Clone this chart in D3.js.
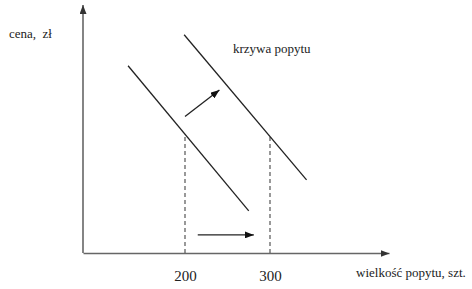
<!DOCTYPE html>
<html>
<head>
<meta charset="utf-8">
<script src="https://cdn.jsdelivr.net/npm/d3@7"></script>
<style>
  body { margin: 0; background: #fff; }
</style>
</head>
<body>
<svg id="chart"></svg>
<script>
// quantity / price readings (schematic)
const demandOld = [[133, 75.5], [275, 17]];
const demandNew = [[199, 88], [343, 29.5]];
const guideOld = [[200, 0], [200, 48]];
const guideNew = [[300, 0], [300, 47.5]];
const shiftArrow = [[200, 55], [240.5, 65.7]];
const qtyArrow = [[215, 7.3], [281, 7.3]];
const tickValues = [200, 300];

const w = 472;
const h = 289;
const serif = "'Liberation Serif', 'Times New Roman', Times, serif";

const x = d3.scaleLinear().domain([80, 440]).range([83, 389]);
const y = d3.scaleLinear().domain([0, 100]).range([253, 5]);

const svg = d3.select("#chart").attr("width", w).attr("height", h);

const defs = svg.append("defs");
const marker = (id, color, len, wid) => {
  defs.append("marker")
    .attr("id", id)
    .attr("viewBox", `0 ${-wid / 2} ${len} ${wid}`)
    .attr("refX", len).attr("refY", 0)
    .attr("markerUnits", "userSpaceOnUse")
    .attr("markerWidth", len).attr("markerHeight", wid)
    .attr("orient", "auto")
    .append("path")
    .attr("d", `M0,${-wid / 2}L${len},0L0,${wid / 2}Z`)
    .attr("fill", color);
};
marker("axisHead", "#333", 9, 7);
marker("head", "#111", 9, 7);

const line = d3.line().x(d => x(d[0])).y(d => y(d[1]));

// axes
const xAxis = d3.axisBottom(x).tickValues(tickValues).tickSize(0).tickSizeOuter(0).tickPadding(17);
const gx = svg.append("g").attr("transform", `translate(0,${y(0)})`).call(xAxis)
  .attr("font-family", null).attr("font-size", null);
gx.select(".domain").attr("stroke", "#666").attr("stroke-width", 1.6).attr("marker-end", "url(#axisHead)");
gx.selectAll("text").style("font-family", serif).style("font-size", "15px").attr("fill", "#222");

const yAxis = d3.axisLeft(y).tickValues([]).tickSize(0).tickSizeOuter(0);
const gy = svg.append("g").attr("transform", `translate(${x(80)},0)`).call(yAxis);
gy.select(".domain").attr("stroke", "#666").attr("stroke-width", 1.6)
  .attr("d", `M0,${y(0)}V${y(100)}`).attr("marker-end", "url(#axisHead)");

// dashed guides
[guideOld, guideNew].forEach(g => {
  svg.append("path").attr("d", line(g))
    .attr("fill", "none").attr("stroke", "#555").attr("stroke-width", 1.2)
    .attr("stroke-dasharray", "4,3");
});

// demand curves
[demandOld, demandNew].forEach(d => {
  svg.append("path").attr("d", line(d))
    .attr("fill", "none").attr("stroke", "#222").attr("stroke-width", 1.3);
});

// arrows
[shiftArrow, qtyArrow].forEach(a => {
  svg.append("path").attr("d", line(a))
    .attr("fill", "none").attr("stroke", "#222").attr("stroke-width", 1.3)
    .attr("marker-end", "url(#head)");
});

// labels
const label = (tx, ty, s) => svg.append("text")
  .attr("x", tx).attr("y", ty)
  .style("font-family", serif).style("font-size", "13px").style("white-space", "pre")
  .attr("fill", "#222").text(s);
label(9, 38, "cena,  zł");
label(233, 53, "krzywa popytu");
label(356, 277, "wielkość popytu, szt.");
</script>
</body>
</html>
